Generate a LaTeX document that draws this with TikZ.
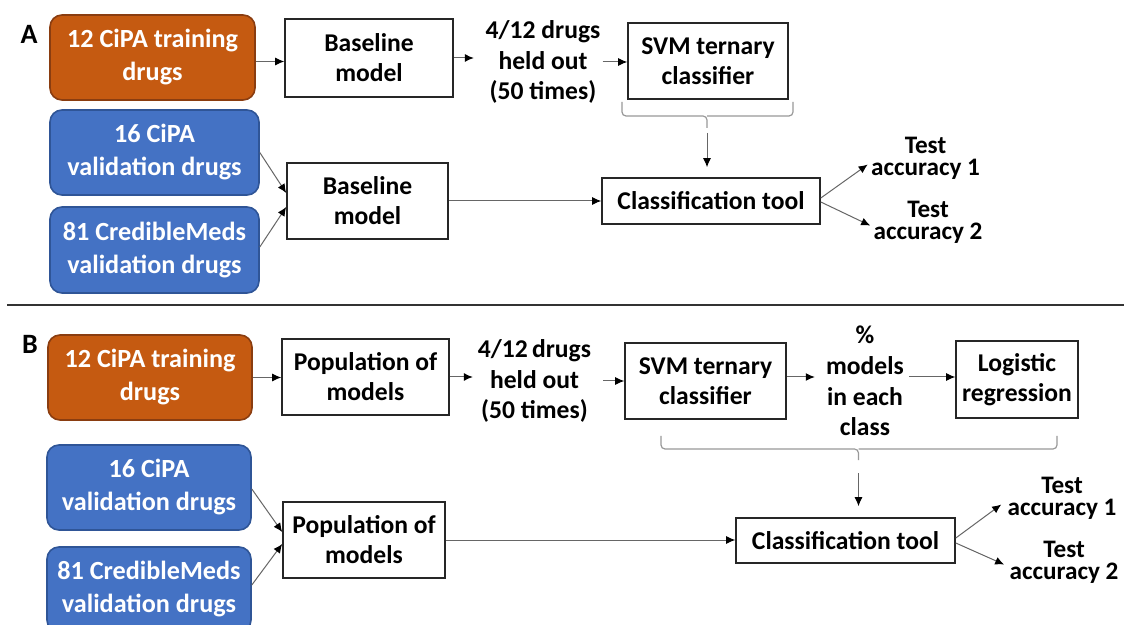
\documentclass[tikz,border=0pt]{standalone}
\usepackage{fontspec}
\setmainfont{Carlito}
\usetikzlibrary{arrows.meta,calc}
\definecolor{orfill}{HTML}{C55A11}
\definecolor{orline}{HTML}{8A3D10}
\definecolor{blfill}{HTML}{4472C4}
\definecolor{blline}{HTML}{2F5597}
\tikzset{
  box/.style={draw=black!85, line width=0.8pt, fill=white, align=center, inner sep=0pt,
    font=\bfseries\fontsize{12.8}{15}\selectfont},
  drugbox/.style={rounded corners=6pt, line width=0.8pt, align=center, inner sep=0pt,
    text=white, font=\bfseries\fontsize{13.1}{16.5}\selectfont},
  orbox/.style={drugbox, fill=orfill, draw=orline},
  blbox/.style={drugbox, fill=blfill, draw=blline},
  txt/.style={align=center, inner sep=0pt, font=\bfseries\fontsize{12.8}{15.25}\selectfont},
  testtxt/.style={align=center, inner sep=0pt, anchor=north, font=\bfseries\fontsize{12.6}{11}\selectfont},
  panel/.style={inner sep=0pt, font=\bfseries\fontsize{14}{16}\selectfont},
  arr/.style={draw=black!60, line width=0.5pt, -{Latex[length=4.5pt,width=4pt,color=black]}},
  bracepath/.style={draw=black!40, line width=0.6pt, rounded corners=2pt},
}
\begin{document}
\begin{tikzpicture}[x=0.5pt,y=-0.5pt]
\clip (0,0) rectangle (1124,625);
\fill[white] (0,0) rectangle (1124,625);

% ---------------- Panel A ----------------
\node[panel] (labA) at (29,34) {A};
\node[orbox, minimum width=102.5pt, minimum height=42.5pt] (orA) at (152.5,57.5) {12 CiPA training\\drugs};
\node[box, minimum width=84pt, minimum height=39pt] (baseA1) at (369,58) {Baseline\\model};
\node[txt] (heldA) at (543,62) {4/12 drugs\\held out\\(50 times)};
\node[box, minimum width=80pt, minimum height=38pt] (svmA) at (708,61) {SVM ternary\\classifier};
\node[blbox, minimum width=104.5pt, minimum height=42.5pt] (blA1) at (154.5,152.5) {16 CiPA\\validation drugs};
\node[blbox, minimum width=104.5pt, minimum height=43pt] (blA2) at (154.5,250) {81 CredibleMeds\\validation drugs};
\node[box, minimum width=80.5pt, minimum height=38pt] (baseA2) at (367.5,201) {Baseline\\model};
\node[box, minimum width=109pt, minimum height=23pt] (classA) at (711,201) {Classification tool};
\node[testtxt] (testA1) at (925.5,137) {Test\\accuracy 1};
\node[testtxt] (testA2) at (928,201) {Test\\accuracy 2};

\draw[arr] ($(orA.east)+(0,4)$) coordinate (oA) -- (oA -| baseA1.west);
\draw[arr] (baseA1.east) -- ++(20,0);
\draw[arr] ($(heldA.east)+(2,0)$) coordinate (hA2) -- (hA2 -| svmA.west);
\draw[bracepath] (622,102) |- (707,116) -- (707,128) coordinate (brAt);
\draw[bracepath] (793,102) |- (707,116);
\draw[arr] ($(brAt)+(0,5)$) -- ($(classA.north)+(-4,-10)$);
\draw[arr] (blA1.east) -- ($(baseA2.west)+(0,-8)$);
\draw[arr] ($(blA2.east)+(0,-3)$) -- ($(baseA2.west)+(0,6)$);
\draw[arr] (baseA2.east) -- (baseA2.east -| classA.west);
\draw[arr] ($(classA.east)+(0,-3)$) -- ($(testA1.west)+(-3,6)$);
\draw[arr] ($(classA.east)+(0,1)$) -- ($(testA2.west)+(-3,3)$);

% separator
\draw[draw=black!80, line width=1.3pt] (7,305) -- (1124,305);

% ---------------- Panel B ----------------
\node[panel] (labB) at (30,344) {B};
\node[orbox, minimum width=102pt, minimum height=42.5pt] (orB) at (150,377.5) {12 CiPA training\\drugs};
\node[box, minimum width=83.5pt, minimum height=38pt] (popB1) at (365.5,377) {Population of\\models};
\node[txt] (heldB) at (534.5,381) {4/12\,drugs\\held out\\(50 times)};
\node[box, minimum width=80.5pt, minimum height=38pt] (svmB) at (705.5,381) {SVM ternary\\classifier};
\node[txt, font=\bfseries\fontsize{12.8}{15.3}\selectfont] (pct) at (865,381) {\%\\models\\in each\\class};
\node[box, minimum width=61pt, minimum height=38.5pt] (logB) at (1017,379.5) {Logistic\\regression};
\node[blbox, minimum width=102pt, minimum height=42.5pt] (blB1) at (149,487.5) {16 CiPA\\validation drugs};
\node[blbox, minimum width=102pt, minimum height=42.5pt] (blB2) at (149,589.5) {81 CredibleMeds\\validation drugs};
\node[box, minimum width=81pt, minimum height=38pt] (popB2) at (364,540) {Population of\\models};
\node[box, minimum width=109.5pt, minimum height=22.5pt] (classB) at (845.5,540.5) {Classification tool};
\node[testtxt] (testB1) at (1062,477) {Test\\accuracy 1};
\node[testtxt] (testB2) at (1064,541) {Test\\accuracy 2};

\draw[arr] (orB.east) -- (orB.east -| popB1.west);
\draw[arr] (popB1.east) -- ++(23,0);
\draw[arr] ($(heldB.east)+(12,0)$) coordinate (hB2) -- (hB2 -| svmB.west);
\draw[arr] ($(svmB.east)+(0,-4)$) -- ($(pct.west)+(-11,-4)$);
\draw[arr] ($(pct.east)+(5,-4)$) coordinate (pB) -- (pB -| logB.west);
\draw[bracepath] (661,436) |- (858.5,449) -- (858.5,460) coordinate (brBt);
\draw[bracepath] (1057,436) |- (858.5,449);
\draw[arr] ($(brBt)+(0,13)$) -- ($(classB.north)+(13,-11)$);
\draw[arr] ($(blB1.east)+(0,1.5)$) -- ($(popB2.west)+(0,-8)$);
\draw[arr] ($(blB2.east)+(0,-4.5)$) -- ($(popB2.west)+(0,4)$);
\draw[arr] (popB2.east) -- (popB2.east -| classB.west);
\draw[arr] ($(classB.east)+(0,-2.5)$) -- ($(testB1.west)+(-6,6)$);
\draw[arr] ($(classB.east)+(0,2.5)$) -- ($(testB2.west)+(-5,2)$);
\end{tikzpicture}
\end{document}
